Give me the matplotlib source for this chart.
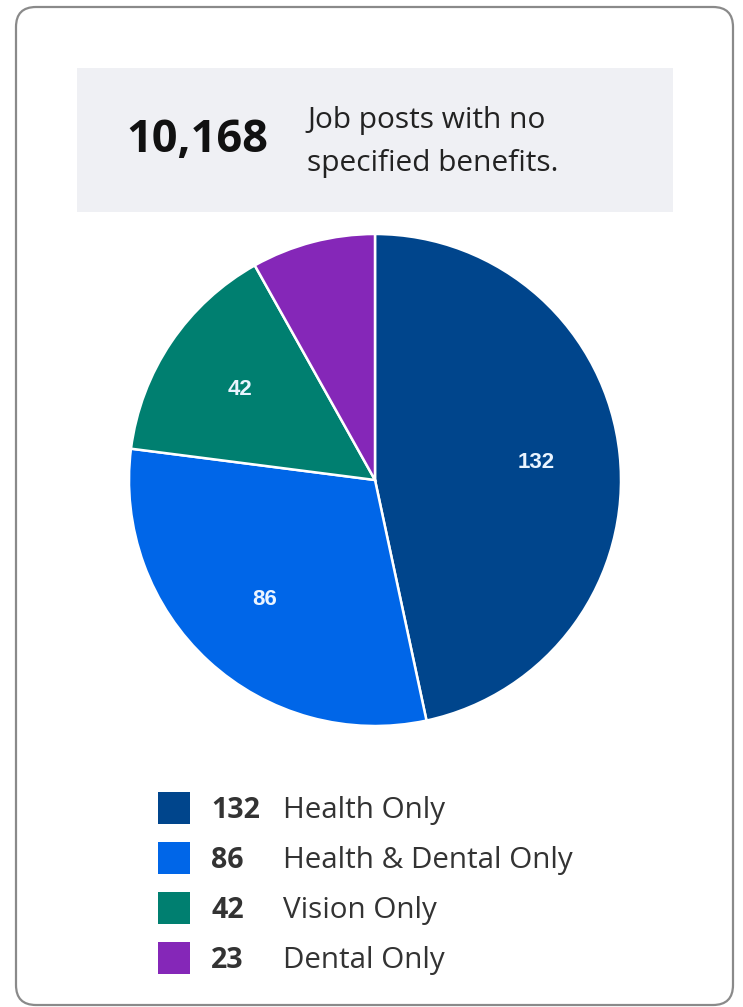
import matplotlib
matplotlib.use("Agg")
import matplotlib.pyplot as plt
from matplotlib.patches import FancyBboxPatch, Rectangle

# ---- data ----
categories = ["Health Only", "Health & Dental Only", "Vision Only", "Dental Only"]
values = [132, 86, 42, 23]
colors = ["#00458C", "#0066E8", "#007F70", "#8527B8"]
headline_value = "10,168"
headline_lines = ["Job posts with no", "specified benefits."]

W, H = 743, 1007
fig = plt.figure(figsize=(W / 100, H / 100), dpi=100)
fig.patch.set_facecolor("white")

# overlay axes in pixel coords
bg = fig.add_axes([0, 0, 1, 1])
bg.set_xlim(0, W)
bg.set_ylim(H, 0)
bg.axis("off")

card = FancyBboxPatch((16, 7), 717, 998, boxstyle="round,pad=0,rounding_size=20",
                      facecolor="white", edgecolor="#8a8a8a", linewidth=1.6)
bg.add_patch(card)
bg.add_patch(Rectangle((77, 68), 596, 144, facecolor="#EFF0F4", edgecolor="none"))

bg.text(197, 141, headline_value, fontsize=32.5, fontweight="bold", family="Open Sans",
        color="#111111", ha="center", va="center")
for i, line in enumerate(headline_lines):
    bg.text(307, 128 + 43 * i, line, fontsize=21.5, family="Open Sans", color="#222222",
            ha="left", va="baseline")

# pie
cx, cy, r = 375, 480, 246
pax = fig.add_axes([(cx - r) / W, 1 - (cy + r) / H, 2 * r / W, 2 * r / H])
labels_in = [str(v) if v >= 30 else "" for v in values]
wedges, texts = pax.pie(values, colors=colors, startangle=90, counterclock=False,
                        radius=1, labels=labels_in, labeldistance=0.66,
                        wedgeprops=dict(edgecolor="white", linewidth=1.8))
pax.set_xlim(-1, 1)
pax.set_ylim(-1, 1)
pax.set_aspect("equal")
pax.axis("off")
for t in texts:
    t.set_color("#EAF4FF")
    t.set_fontsize(16)
    t.set_fontweight("bold")
    t.set_family("Liberation Sans")
    t.set_ha("center")
    t.set_va("center")

# legend
row_y = [808, 858, 908, 958]
for y, v, lab, c in zip(row_y, values, categories, colors):
    bg.add_patch(Rectangle((158, y - 16), 32, 32, facecolor=c, edgecolor="none"))
    bg.text(211, y + 10, str(v), fontsize=20.5, fontweight="bold", family="Open Sans",
            color="#333333", ha="left", va="baseline")
    bg.text(283, y + 10, lab, fontsize=21.3, family="Open Sans", color="#333333",
            ha="left", va="baseline")

fig.savefig("out.png", dpi=100)
